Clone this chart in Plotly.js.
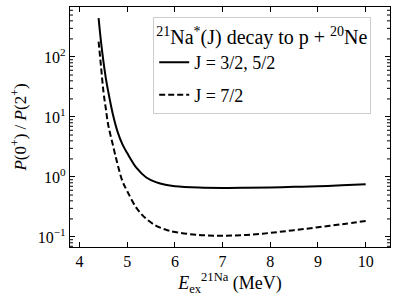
<!DOCTYPE html>
<html><head><meta charset="utf-8">
<script src="https://cdn.plot.ly/plotly-3.0.1.min.js"></script>
<style>html,body{margin:0;padding:0;background:#fff}</style>
</head><body><div id="chart" style="width:398px;height:306px"></div>
<script>
var energy = [4.40, 4.45, 4.50, 4.55, 4.60, 4.70, 4.80, 4.90, 5.00, 5.20, 5.40, 5.60, 5.80, 6.00, 6.50, 7.00, 7.50, 8.00, 8.50, 9.00, 9.50, 10.00];
var ratioJ35 = [445, 180, 85, 45, 27, 11, 5.6, 3.5, 2.5, 1.4, 0.98, 0.82, 0.74, 0.70, 0.665, 0.655, 0.66, 0.67, 0.685, 0.70, 0.725, 0.755];
var ratioJ7 = [180, 70, 27, 14, 7.5, 3.4, 1.6, 0.85, 0.58, 0.30, 0.20, 0.155, 0.133, 0.121, 0.108, 0.105, 0.108, 0.117, 0.13, 0.145, 0.163, 0.185];
var seriesNames = ['J = 3/2, 5/2', 'J = 7/2'];
var legendTitle = '<sup>21</sup>Na<sup>*</sup>(J) decay to p + <sup>20</sup>Ne';
var yTickVals = [0.1, 1, 10, 100];
var yTickText = ['10<sup>\u22121</sup>', '10<sup>0</sup>', '10<sup>1</sup>', '10<sup>2</sup>'];

var font = 'Liberation Serif, Times New Roman, serif';
var yRange = [-1.167, 2.833];
var plotW = 398 - 70 - 8;

// minor ticks (2..9 in each decade) on left and right frame edges
var shapes = [];
var tl = 3 / plotW;
for (var d = -2; d <= 2; d++) for (var m = 2; m <= 9; m++) {
  var lv = Math.log10(m * Math.pow(10, d));
  if (lv <= yRange[0] || lv >= yRange[1]) continue;
  var py = (lv - yRange[0]) / (yRange[1] - yRange[0]);
  shapes.push({type: 'line', xref: 'paper', yref: 'paper', x0: 0, x1: tl, y0: py, y1: py, line: {color: '#000', width: 1}});
  shapes.push({type: 'line', xref: 'paper', yref: 'paper', x0: 1 - tl, x1: 1, y0: py, y1: py, line: {color: '#000', width: 1}});
}

var traces = [
  {x: energy, y: ratioJ35, mode: 'lines', name: seriesNames[0], legendgroup: 'a', line: {color: '#000', width: 2, shape: 'spline'}},
  {x: energy, y: ratioJ7, mode: 'lines', name: seriesNames[1], legendgroup: 'b', line: {color: '#000', width: 2, dash: '6px,3px', shape: 'spline'}}
];
var layout = {
  width: 398, height: 306,
  margin: {l: 70, r: 8, t: 7, b: 59},
  paper_bgcolor: '#fff', plot_bgcolor: '#fff',
  font: {family: font, size: 15, color: '#000'},
  showlegend: true,
  shapes: shapes,
  legend: {
    x: 0.26, y: 0.958, xanchor: 'left', yanchor: 'top',
    bordercolor: '#cccccc', borderwidth: 1, bgcolor: 'rgba(255,255,255,0.8)',
    font: {family: font, size: 18},
    title: {text: legendTitle, side: 'top', font: {family: font, size: 20}},
    tracegroupgap: 6
  },
  xaxis: {
    range: [3.80, 10.51], dtick: 1, tick0: 4,
    ticks: 'inside', ticklen: 5, tickwidth: 1, tickcolor: '#000',
    showline: true, linecolor: '#000', linewidth: 1.2, mirror: 'ticks',
    showgrid: false, zeroline: false,
    tickfont: {family: font, size: 16},
    title: {text: '<i>E</i><sub>ex</sub><sup>21Na</sup> (MeV)', font: {family: font, size: 18}, standoff: 5}
  },
  yaxis: {
    type: 'log', range: yRange,
    tickmode: 'array', tickvals: yTickVals, ticktext: yTickText,
    ticks: 'inside', ticklen: 5, tickwidth: 1, tickcolor: '#000',
    showline: true, linecolor: '#000', linewidth: 1.2, mirror: 'ticks',
    showgrid: false, zeroline: false,
    tickfont: {family: font, size: 16},
    title: {text: '<i>P</i>(0<sup>+</sup>) / <i>P</i>(2<sup>+</sup>)', font: {family: font, size: 17}, standoff: 6}
  }
};
Plotly.newPlot('chart', traces, layout, {staticPlot: true, displayModeBar: false});
</script></body></html>
